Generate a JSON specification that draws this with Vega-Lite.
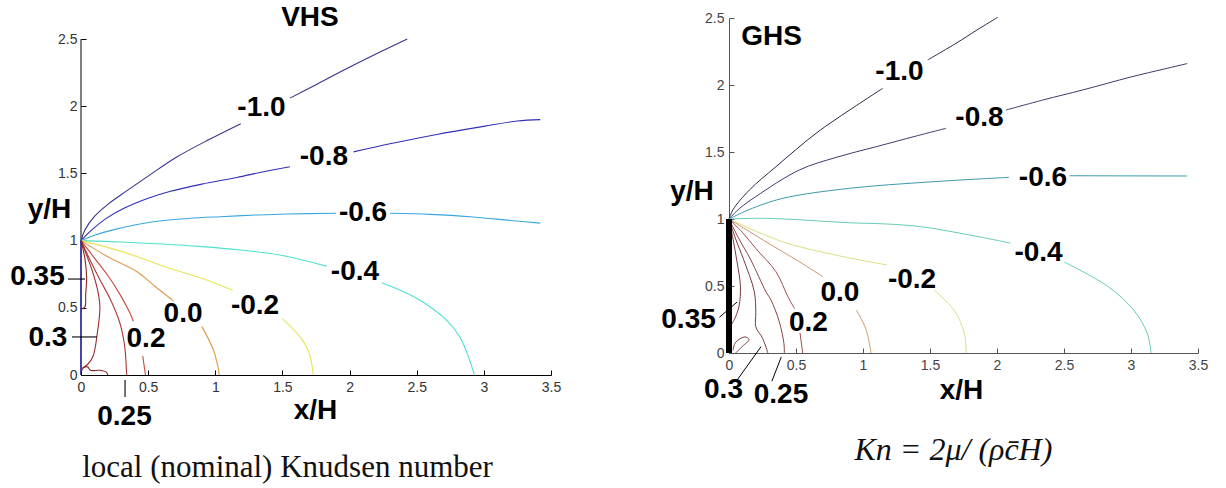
{
  "$schema": "https://vega.github.io/schema/vega-lite/v6.json",
  "padding": {"left": 10, "top": 4, "right": 5, "bottom": 0},
  "background": "white",
  "spacing": 100,
  "resolve": {"scale": {"color": "independent"}},
  "config": {
    "view": {"stroke": null}
  },
  "hconcat": [
    {
      "width": 470, "height": 357,
      "layer": [
        {
          "data": {"values": [{"x": 0, "y": 0, "y2": 2.5}]},
          "mark": {"type": "rule", "color": "#000", "strokeWidth": 1},
          "encoding": {
            "x": {"field": "x", "type": "quantitative", "title": null, "scale": {"domain": [0, 3.5], "nice": false, "zero": false},
                  "axis": {"values": [0, 0.5, 1, 1.5, 2, 2.5, 3, 3.5], "format": "~g", "grid": false, "tickSize": -5, "labelFont": "Liberation Sans", "labelFontSize": 14, "labelColor": "#333", "domainColor": "#000", "tickColor": "#000", "labelFlush": false, "labelOverlap": false, "labelPadding": 10}},
            "y": {"field": "y", "type": "quantitative", "title": null, "scale": {"domain": [0, 2.65625], "nice": false, "zero": false},
                  "axis": {"values": [0, 0.5, 1, 1.5, 2, 2.5], "format": "~g", "grid": false, "domain": false, "tickSize": -5, "labelFont": "Liberation Sans", "labelFontSize": 14, "labelColor": "#333", "tickColor": "#000", "labelFlush": false, "labelOverlap": false, "labelPadding": 9}},
            "y2": {"field": "y2"}
          }
        },
        {
          "data": {"values": [
            {"c":"-1.0","s":"a","x":0,"y":1},{"c":"-1.0","s":"a","x":0.03,"y":1.08},{"c":"-1.0","s":"a","x":0.1,"y":1.18},{"c":"-1.0","s":"a","x":0.2,"y":1.27},{"c":"-1.0","s":"a","x":0.34,"y":1.37},{"c":"-1.0","s":"a","x":0.5,"y":1.48},{"c":"-1.0","s":"a","x":0.71,"y":1.62},{"c":"-1.0","s":"a","x":0.95,"y":1.75},{"c":"-1.0","s":"a","x":1.19,"y":1.87},
            {"c":"-1.0","s":"b","x":1.556,"y":2.06},{"c":"-1.0","s":"b","x":1.75,"y":2.16},{"c":"-1.0","s":"b","x":1.98,"y":2.28},{"c":"-1.0","s":"b","x":2.2,"y":2.39},{"c":"-1.0","s":"b","x":2.43,"y":2.5},
            {"c":"-0.8","s":"c","x":0,"y":1},{"c":"-0.8","s":"c","x":0.08,"y":1.08},{"c":"-0.8","s":"c","x":0.18,"y":1.16},{"c":"-0.8","s":"c","x":0.32,"y":1.24},{"c":"-0.8","s":"c","x":0.5,"y":1.315},{"c":"-0.8","s":"c","x":0.66,"y":1.365},{"c":"-0.8","s":"c","x":0.9,"y":1.42},{"c":"-0.8","s":"c","x":1.16,"y":1.47},{"c":"-0.8","s":"c","x":1.35,"y":1.51},{"c":"-0.8","s":"c","x":1.556,"y":1.55},
            {"c":"-0.8","s":"d","x":2.03,"y":1.66},{"c":"-0.8","s":"d","x":2.3,"y":1.72},{"c":"-0.8","s":"d","x":2.65,"y":1.79},{"c":"-0.8","s":"d","x":3.0,"y":1.85},{"c":"-0.8","s":"d","x":3.25,"y":1.89},{"c":"-0.8","s":"d","x":3.42,"y":1.9},
            {"c":"-0.6","s":"e","x":0,"y":1},{"c":"-0.6","s":"e","x":0.1,"y":1.04},{"c":"-0.6","s":"e","x":0.24,"y":1.08},{"c":"-0.6","s":"e","x":0.54,"y":1.14},{"c":"-0.6","s":"e","x":0.8,"y":1.165},{"c":"-0.6","s":"e","x":1.035,"y":1.178},{"c":"-0.6","s":"e","x":1.3,"y":1.19},{"c":"-0.6","s":"e","x":1.53,"y":1.198},{"c":"-0.6","s":"e","x":1.9,"y":1.203},
            {"c":"-0.6","s":"f","x":2.3,"y":1.203},{"c":"-0.6","s":"f","x":2.6,"y":1.195},{"c":"-0.6","s":"f","x":2.9,"y":1.178},{"c":"-0.6","s":"f","x":3.2,"y":1.15},{"c":"-0.6","s":"f","x":3.42,"y":1.13},
            {"c":"-0.4","s":"g","x":0,"y":1},{"c":"-0.4","s":"g","x":0.3,"y":0.99},{"c":"-0.4","s":"g","x":0.6,"y":0.975},{"c":"-0.4","s":"g","x":0.9,"y":0.955},{"c":"-0.4","s":"g","x":1.18,"y":0.93},{"c":"-0.4","s":"g","x":1.48,"y":0.893},{"c":"-0.4","s":"g","x":1.83,"y":0.81},
            {"c":"-0.4","s":"h","x":2.24,"y":0.687},{"c":"-0.4","s":"h","x":2.5,"y":0.571},{"c":"-0.4","s":"h","x":2.72,"y":0.41},{"c":"-0.4","s":"h","x":2.82,"y":0.285},{"c":"-0.4","s":"h","x":2.88,"y":0.15},{"c":"-0.4","s":"h","x":2.93,"y":0},
            {"c":"-0.2","s":"i","x":0,"y":1},{"c":"-0.2","s":"i","x":0.3,"y":0.92},{"c":"-0.2","s":"i","x":0.66,"y":0.794},{"c":"-0.2","s":"i","x":0.9,"y":0.72},{"c":"-0.2","s":"i","x":1.13,"y":0.63},
            {"c":"-0.2","s":"j","x":1.5,"y":0.42},{"c":"-0.2","s":"j","x":1.63,"y":0.285},{"c":"-0.2","s":"j","x":1.7,"y":0.16},{"c":"-0.2","s":"j","x":1.73,"y":0},
            {"c":"0.0","s":"k","x":0,"y":1},{"c":"0.0","s":"k","x":0.2,"y":0.88},{"c":"0.0","s":"k","x":0.415,"y":0.77},{"c":"0.0","s":"k","x":0.55,"y":0.66},{"c":"0.0","s":"k","x":0.69,"y":0.55},
            {"c":"0.0","s":"l","x":0.9,"y":0.36},{"c":"0.0","s":"l","x":0.985,"y":0.19},{"c":"0.0","s":"l","x":1.02,"y":0.06},{"c":"0.0","s":"l","x":1.03,"y":0},
            {"c":"0.2","s":"m","x":0,"y":1},{"c":"0.2","s":"m","x":0.1,"y":0.87},{"c":"0.2","s":"m","x":0.2,"y":0.74},{"c":"0.2","s":"m","x":0.29,"y":0.6},{"c":"0.2","s":"m","x":0.36,"y":0.47},{"c":"0.2","s":"m","x":0.39,"y":0.4},
            {"c":"0.2","s":"n","x":0.46,"y":0.14},{"c":"0.2","s":"n","x":0.47,"y":0.07},{"c":"0.2","s":"n","x":0.48,"y":0},
            {"c":"0.25","s":"o","x":0,"y":1},{"c":"0.25","s":"o","x":0.07,"y":0.85},{"c":"0.25","s":"o","x":0.14,"y":0.71},{"c":"0.25","s":"o","x":0.22,"y":0.56},{"c":"0.25","s":"o","x":0.29,"y":0.385},{"c":"0.25","s":"o","x":0.32,"y":0.25},{"c":"0.25","s":"o","x":0.33,"y":0.17},{"c":"0.25","s":"o","x":0.34,"y":0},
            {"c":"0.3","s":"p","x":0,"y":1},{"c":"0.3","s":"p","x":0.05,"y":0.87},{"c":"0.3","s":"p","x":0.092,"y":0.75},{"c":"0.3","s":"p","x":0.13,"y":0.6},{"c":"0.3","s":"p","x":0.141,"y":0.5},{"c":"0.3","s":"p","x":0.12,"y":0.3},{"c":"0.3","s":"p","x":0.09,"y":0.14},{"c":"0.3","s":"p","x":0.05,"y":0.08},{"c":"0.3","s":"p","x":0.01,"y":0.05},
            {"c":"0.35","s":"q","x":0,"y":1},{"c":"0.35","s":"q","x":0.03,"y":0.86},{"c":"0.35","s":"q","x":0.042,"y":0.72},{"c":"0.35","s":"q","x":0.035,"y":0.6},{"c":"0.35","s":"q","x":0.03,"y":0.51},{"c":"0.35","s":"q","x":0.005,"y":0.49},
            {"c":"0.35","s":"r","x":0,"y":0.02},{"c":"0.35","s":"r","x":0.02,"y":0.055},{"c":"0.35","s":"r","x":0.05,"y":0.06},{"c":"0.35","s":"r","x":0.07,"y":0.035},{"c":"0.35","s":"r","x":0.14,"y":0.035},{"c":"0.35","s":"r","x":0.19,"y":0.02},{"c":"0.35","s":"r","x":0.2,"y":0},
            {"c":"plate","s":"t","x":0,"y":0},{"c":"plate","s":"t","x":0,"y":1},
            {"c":"lead","s":"u","x":-0.097,"y":0.714},{"c":"lead","s":"u","x":0.03,"y":0.714},
            {"c":"lead","s":"v","x":-0.067,"y":0.283},{"c":"lead","s":"v","x":0.119,"y":0.283},
            {"c":"lead","s":"w","x":0.328,"y":-0.037},{"c":"lead","s":"w","x":0.328,"y":-0.164}
          ]},
          "mark": {"type": "line", "strokeWidth": 1.1, "interpolate": "catmull-rom", "clip": false},
          "encoding": {
            "x": {"field": "x", "type": "quantitative", "scale": {"domain": [0, 3.5], "nice": false, "zero": false}},
            "y": {"field": "y", "type": "quantitative", "scale": {"domain": [0, 2.65625], "nice": false, "zero": false}},
            "color": {"field": "c", "type": "nominal", "legend": null, "scale": {"domain": ["-1.0","-0.8","-0.6","-0.4","-0.2","0.0","0.2","0.25","0.3","0.35","plate","lead"], "range": ["#34348c","#3030b4","#3aa6e0","#4ee0cc","#e6e655","#de9a4a","#c44a3a","#b03838","#9c2e2e","#8c2626","#1414c8","#000000"]}},
            "detail": {"field": "s"},
            "order": {"value": null}
          }
        },
        {
          "data": {"values": [
            {"t":"VHS","x":1.705,"y":2.656},
            {"t":"-1.0","x":1.344,"y":1.99},
            {"t":"-0.8","x":1.809,"y":1.622},
            {"t":"-0.6","x":2.1,"y":1.205},
            {"t":"-0.4","x":2.04,"y":0.763},
            {"t":"-0.2","x":1.296,"y":0.513},
            {"t":"0.0","x":0.76,"y":0.454},
            {"t":"0.2","x":0.484,"y":0.268},
            {"t":"0.35","x":-0.324,"y":0.729},
            {"t":"0.3","x":-0.246,"y":0.275},
            {"t":"0.25","x":0.324,"y":-0.3125},
            {"t":"y/H","x":-0.235,"y":1.228},
            {"t":"x/H","x":1.746,"y":-0.268}
          ]},
          "mark": {"type": "text", "font": "Liberation Sans", "fontWeight": "bold", "fontSize": 28, "align": "center", "baseline": "middle", "color": "#000"},
          "encoding": {
            "x": {"field": "x", "type": "quantitative", "scale": {"domain": [0, 3.5], "nice": false, "zero": false}},
            "y": {"field": "y", "type": "quantitative", "scale": {"domain": [0, 2.65625], "nice": false, "zero": false}},
            "text": {"field": "t"}
          }
        },
        {
          "data": {"values": [{"t":"local (nominal) Knudsen number","x":1.538,"y":-0.76}]},
          "mark": {"type": "text", "font": "Liberation Serif", "fontSize": 31, "align": "center", "baseline": "alphabetic", "color": "#111"},
          "encoding": {
            "x": {"field": "x", "type": "quantitative", "scale": {"domain": [0, 3.5], "nice": false, "zero": false}},
            "y": {"field": "y", "type": "quantitative", "scale": {"domain": [0, 2.65625], "nice": false, "zero": false}},
            "text": {"field": "t"}
          }
        }
      ]
    },
    {
      "width": 469, "height": 335,
      "layer": [
        {
          "data": {"values": [
            {"c":"-1.0","s":"a","x":0,"y":1},{"c":"-1.0","s":"a","x":0.03,"y":1.07},{"c":"-1.0","s":"a","x":0.152,"y":1.216},{"c":"-1.0","s":"a","x":0.35,"y":1.39},{"c":"-1.0","s":"a","x":0.65,"y":1.64},{"c":"-1.0","s":"a","x":0.9,"y":1.813},{"c":"-1.0","s":"a","x":1.147,"y":1.975},
            {"c":"-1.0","s":"b","x":1.483,"y":2.187},{"c":"-1.0","s":"b","x":1.694,"y":2.311},{"c":"-1.0","s":"b","x":1.85,"y":2.41},{"c":"-1.0","s":"b","x":2.005,"y":2.505},
            {"c":"-0.8","s":"c","x":0,"y":1},{"c":"-0.8","s":"c","x":0.08,"y":1.08},{"c":"-0.8","s":"c","x":0.2,"y":1.167},{"c":"-0.8","s":"c","x":0.525,"y":1.366},{"c":"-0.8","s":"c","x":0.8,"y":1.46},{"c":"-0.8","s":"c","x":1.1,"y":1.54},{"c":"-0.8","s":"c","x":1.4,"y":1.62},{"c":"-0.8","s":"c","x":1.62,"y":1.677},
            {"c":"-0.8","s":"d","x":2.067,"y":1.813},{"c":"-0.8","s":"d","x":2.35,"y":1.89},{"c":"-0.8","s":"d","x":2.64,"y":1.963},{"c":"-0.8","s":"d","x":3.0,"y":2.06},{"c":"-0.8","s":"d","x":3.25,"y":2.12},{"c":"-0.8","s":"d","x":3.42,"y":2.16},
            {"c":"-0.6","s":"e","x":0,"y":1},{"c":"-0.6","s":"e","x":0.15,"y":1.07},{"c":"-0.6","s":"e","x":0.4,"y":1.154},{"c":"-0.6","s":"e","x":0.9,"y":1.229},{"c":"-0.6","s":"e","x":1.52,"y":1.278},{"c":"-0.6","s":"e","x":2.09,"y":1.311},
            {"c":"-0.6","s":"f","x":2.54,"y":1.323},{"c":"-0.6","s":"f","x":2.9,"y":1.322},{"c":"-0.6","s":"f","x":3.42,"y":1.321},
            {"c":"-0.4","s":"g","x":0,"y":1},{"c":"-0.4","s":"g","x":0.28,"y":1.005},{"c":"-0.4","s":"g","x":0.9,"y":0.972},{"c":"-0.4","s":"g","x":1.17,"y":0.963},{"c":"-0.4","s":"g","x":1.43,"y":0.943},{"c":"-0.4","s":"g","x":1.8,"y":0.88},{"c":"-0.4","s":"g","x":2.1,"y":0.82},
            {"c":"-0.4","s":"h","x":2.5,"y":0.68},{"c":"-0.4","s":"h","x":2.83,"y":0.495},{"c":"-0.4","s":"h","x":3.02,"y":0.32},{"c":"-0.4","s":"h","x":3.12,"y":0.15},{"c":"-0.4","s":"h","x":3.15,"y":0},
            {"c":"-0.2","s":"i","x":0,"y":1},{"c":"-0.2","s":"i","x":0.4,"y":0.83},{"c":"-0.2","s":"i","x":0.8,"y":0.73},{"c":"-0.2","s":"i","x":1.18,"y":0.657},
            {"c":"-0.2","s":"j","x":1.53,"y":0.47},{"c":"-0.2","s":"j","x":1.68,"y":0.32},{"c":"-0.2","s":"j","x":1.756,"y":0.147},{"c":"-0.2","s":"j","x":1.77,"y":0},
            {"c":"0.0","s":"k","x":0,"y":1},{"c":"0.0","s":"k","x":0.276,"y":0.83},{"c":"0.0","s":"k","x":0.525,"y":0.681},{"c":"0.0","s":"k","x":0.7,"y":0.57},
            {"c":"0.0","s":"l","x":0.95,"y":0.32},{"c":"0.0","s":"l","x":1.02,"y":0.184},{"c":"0.0","s":"l","x":1.06,"y":0},
            {"c":"0.2","s":"m","x":0,"y":1},{"c":"0.2","s":"m","x":0.1,"y":0.9},{"c":"0.2","s":"m","x":0.2,"y":0.78},{"c":"0.2","s":"m","x":0.35,"y":0.607},{"c":"0.2","s":"m","x":0.44,"y":0.42},{"c":"0.2","s":"m","x":0.49,"y":0.33},
            {"c":"0.2","s":"n","x":0.53,"y":0.15},{"c":"0.2","s":"n","x":0.55,"y":0},
            {"c":"0.25","s":"o","x":0,"y":1},{"c":"0.25","s":"o","x":0.07,"y":0.86},{"c":"0.25","s":"o","x":0.16,"y":0.7},{"c":"0.25","s":"o","x":0.276,"y":0.457},{"c":"0.25","s":"o","x":0.313,"y":0.396},{"c":"0.25","s":"o","x":0.375,"y":0.234},{"c":"0.25","s":"o","x":0.41,"y":0.07},{"c":"0.25","s":"o","x":0.413,"y":0},
            {"c":"0.3","s":"p","x":0,"y":1},{"c":"0.3","s":"p","x":0.05,"y":0.85},{"c":"0.3","s":"p","x":0.108,"y":0.7},{"c":"0.3","s":"p","x":0.189,"y":0.457},{"c":"0.3","s":"p","x":0.2,"y":0.3},{"c":"0.3","s":"p","x":0.2,"y":0.196},{"c":"0.3","s":"p","x":0.251,"y":0.11},{"c":"0.3","s":"p","x":0.29,"y":0},
            {"c":"0.35","s":"q","x":0,"y":1},{"c":"0.35","s":"q","x":0.03,"y":0.85},{"c":"0.35","s":"q","x":0.06,"y":0.68},{"c":"0.35","s":"q","x":0.085,"y":0.5},{"c":"0.35","s":"q","x":0.075,"y":0.35},{"c":"0.35","s":"q","x":0.04,"y":0.25},{"c":"0.35","s":"q","x":0.01,"y":0.2},
            {"c":"0.35","s":"r","x":0.03,"y":0.02},{"c":"0.35","s":"r","x":0.05,"y":0.08},{"c":"0.35","s":"r","x":0.12,"y":0.12},{"c":"0.35","s":"r","x":0.15,"y":0.1},{"c":"0.35","s":"r","x":0.1,"y":0.05},{"c":"0.35","s":"r","x":0.05,"y":0},
            {"c":"lead","s":"u","x":-0.072,"y":0.266},{"c":"lead","s":"u","x":0.06,"y":0.38},
            {"c":"lead","s":"v","x":0.052,"y":-0.214},{"c":"lead","s":"v","x":0.239,"y":0.047},
            {"c":"lead","s":"w","x":0.32,"y":-0.21},{"c":"lead","s":"w","x":0.39,"y":-0.03}
          ]},
          "mark": {"type": "line", "strokeWidth": 1.0, "interpolate": "catmull-rom", "clip": false},
          "encoding": {
            "x": {"field": "x", "type": "quantitative", "title": null, "scale": {"domain": [0, 3.5], "nice": false, "zero": false},
                  "axis": {"values": [0, 0.5, 1, 1.5, 2, 2.5, 3, 3.5], "format": "~g", "grid": false, "tickSize": -5, "labelFont": "Liberation Sans", "labelFontSize": 14, "labelColor": "#444", "domainColor": "#555", "tickColor": "#555", "labelFlush": false, "labelOverlap": false, "labelPadding": 10}},
            "y": {"field": "y", "type": "quantitative", "title": null, "scale": {"domain": [0, 2.5], "nice": false, "zero": false},
                  "axis": {"values": [0, 0.5, 1, 1.5, 2, 2.5], "format": "~g", "grid": false, "tickSize": -5, "labelFont": "Liberation Sans", "labelFontSize": 14, "labelColor": "#444", "domainColor": "#555", "tickColor": "#555", "labelFlush": false, "labelOverlap": false, "labelPadding": 10}},
            "color": {"field": "c", "type": "nominal", "legend": null, "scale": {"domain": ["-1.0","-0.8","-0.6","-0.4","-0.2","0.0","0.2","0.25","0.3","0.35","lead"], "range": ["#2a2a48","#3c3c6c","#3a9aac","#66ccb8","#dede88","#cc9a66","#9a5050","#8a4444","#7a3a3a","#7a3a3a","#000000"]}},
            "detail": {"field": "s"},
            "order": {"value": null}
          }
        },
        {
          "data": {"values": [{"x":0,"y":0},{"x":0,"y":1}]},
          "mark": {"type": "line", "strokeWidth": 6, "color": "#000", "clip": false},
          "encoding": {
            "x": {"field": "x", "type": "quantitative", "scale": {"domain": [0, 3.5], "nice": false, "zero": false}},
            "y": {"field": "y", "type": "quantitative", "scale": {"domain": [0, 2.5], "nice": false, "zero": false}}
          }
        },
        {
          "data": {"values": [
            {"t":"GHS","x":0.317,"y":2.358},
            {"t":"-1.0","x":1.272,"y":2.097},
            {"t":"-0.8","x":1.869,"y":1.757},
            {"t":"-0.6","x":2.343,"y":1.306},
            {"t":"-0.4","x":2.31,"y":0.75},
            {"t":"-0.2","x":1.366,"y":0.545},
            {"t":"0.0","x":0.828,"y":0.448},
            {"t":"0.2","x":0.593,"y":0.224},
            {"t":"0.35","x":-0.302,"y":0.246},
            {"t":"0.3","x":-0.041,"y":-0.276},
            {"t":"0.25","x":0.388,"y":-0.313},
            {"t":"y/H","x":-0.276,"y":1.2},
            {"t":"x/H","x":1.735,"y":-0.284}
          ]},
          "mark": {"type": "text", "font": "Liberation Sans", "fontWeight": "bold", "fontSize": 28, "align": "center", "baseline": "middle", "color": "#000"},
          "encoding": {
            "x": {"field": "x", "type": "quantitative", "scale": {"domain": [0, 3.5], "nice": false, "zero": false}},
            "y": {"field": "y", "type": "quantitative", "scale": {"domain": [0, 2.5], "nice": false, "zero": false}},
            "text": {"field": "t"}
          }
        },
        {
          "data": {"values": [{"t":"Kn\u00a0=\u00a02μ/\u00a0(ρc̄H)","x":1.675,"y":-0.8}]},
          "mark": {"type": "text", "font": "Liberation Serif", "fontStyle": "italic", "fontSize": 32, "align": "center", "baseline": "alphabetic", "color": "#111"},
          "encoding": {
            "x": {"field": "x", "type": "quantitative", "scale": {"domain": [0, 3.5], "nice": false, "zero": false}},
            "y": {"field": "y", "type": "quantitative", "scale": {"domain": [0, 2.5], "nice": false, "zero": false}},
            "text": {"field": "t"}
          }
        }
      ]
    }
  ]
}
